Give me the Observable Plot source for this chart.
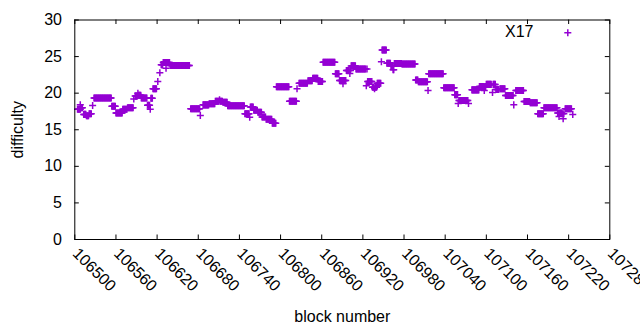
<!DOCTYPE html>
<html><head><meta charset="utf-8">
<script src="https://cdn.jsdelivr.net/npm/d3@7"></script>
<script src="https://cdn.jsdelivr.net/npm/@observablehq/plot@0.6"></script>
<style>html,body{margin:0;padding:0;background:#fff;} #chart svg{display:block}</style>
</head><body><div id="chart"></div>
<script>
// Runs of consecutive blocks sharing the same difficulty
const runStart = [106504,106508,106509,106513,106517,106521,106526,106528,106554,106560,106570,106577,106586,106588,106592,106593,106597,106606,106610,106611,106614,106621,106624,106626,106629,106633,106634,106639,
106669,106683,106687,106696,106705,106711,106712,106716,106723,106748,106755,106756,106761,106767,106773,106779,106788,
106794,106813,106824,106827,106840,106847,106855,106862,106880,106886,106891,106892,106896,106901,106902,106903,106910,106925,106926,106927,106934,106937,106938,106941,106947,106948,106955,106961,106964,106966,106977,106997,107001,107015,107016,107038,107054,107059,107060,107074,107079,107090,107097,107098,107100,107109,107110,107114,107120,107128,107140,107143,107155,107164,107175,107184,107204,107206,107207,107211,107212,107213,107215,107226];
const runEnd = [106508,106508,106511,106516,106520,106524,106526,106553,106559,106569,106576,106585,106586,106591,106592,106596,106605,106609,106610,106613,106619,106621,106624,106628,106632,106633,106638,106667,
106682,106683,106695,106704,106710,106711,106715,106722,106747,106754,106755,106760,106766,106772,106778,106787,106793,
106812,106823,106824,106839,106846,106854,106861,106879,106885,106890,106891,106895,106900,106901,106902,106909,106924,106925,106926,106933,106936,106937,106940,106946,106947,106954,106960,106963,106965,106976,106996,107000,107014,107015,107037,107053,107058,107059,107073,107074,107089,107096,107097,107099,107107,107109,107113,107118,107127,107139,107140,107154,107163,107174,107183,107203,107205,107206,107210,107211,107212,107213,107224,107226];
const runValue = [17.8,18.4,18.0,17.1,16.9,17.2,18.3,19.34,18.2,17.3,17.8,18.0,19.2,19.6,20.0,19.7,19.34,18.35,17.8,19.3,20.6,21.6,22.8,23.9,24.2,23.4,24.2,23.78,
17.86,16.95,18.4,18.55,18.9,19.1,18.9,18.77,18.27,17.18,16.7,18.1,17.65,17.4,16.75,16.45,15.9,
20.87,18.9,20.6,21.37,21.7,22.05,21.6,24.23,22.65,21.73,21.3,21.73,23.1,22.7,23.1,23.73,23.3,21.0,23.3,21.6,20.8,20.6,20.8,21.37,24.3,25.9,24.1,23.78,23.2,24.05,24.0,21.8,21.55,20.36,22.65,20.73,19.8,18.6,19.0,18.6,20.45,20.9,20.36,20.9,21.2,20.1,21.2,20.5,20.6,19.68,18.4,20.36,18.86,18.68,17.18,18.0,17.3,16.8,17.3,17.2,16.5,17.2,17.86,17.1];

const xTicks = [106500,106560,106620,106680,106740,106800,106860,106920,106980,107040,107100,107160,107220,107280];
const yTicks = [0,5,10,15,20,25,30];
const seriesName = "X17";
const xLabel = "block number";
const yLabel = "difficulty";

const points = [];
runStart.forEach((s, i) => {
  for (let b = s; b <= runEnd[i]; b++) points.push({block: b, difficulty: runValue[i]});
});

const W = 640, H = 330, mL = 74.3, mR = 30.7, mT = 19.5, mB = 91;
const innerW = W - mL - mR, innerH = H - mT - mB;
const purple = "#9400d3";
const font = "'Liberation Sans', Arial, sans-serif";
const tickLen = 4.5;

const chart = Plot.plot({
  width: W, height: H,
  marginLeft: mL, marginRight: mR, marginTop: mT, marginBottom: mB,
  style: {fontFamily: font, fontSize: "16px", background: "white", color: "black"},
  x: {domain: [106500, 107280], axis: null},
  y: {domain: [0, 30], axis: null},
  marks: [
    Plot.dot(points, {x: "block", y: "difficulty", symbol: "plus", r: 2.4, stroke: purple, strokeWidth: 1.5, fill: "none"}),
    Plot.tickX(xTicks, {x: d => d, insetTop: innerH - tickLen, stroke: "black"}),
    Plot.tickX(xTicks, {x: d => d, insetBottom: innerH - tickLen, stroke: "black"}),
    Plot.tickY(yTicks, {y: d => d, insetRight: innerW - tickLen, stroke: "black"}),
    Plot.tickY(yTicks, {y: d => d, insetLeft: innerW - tickLen, stroke: "black"}),
    Plot.frame({stroke: "black"}),
    Plot.text(xTicks, {x: d => d, text: d => String(d), frameAnchor: "bottom", rotate: 45, textAnchor: "start", lineAnchor: "top", dx: 5, dy: 7, fontSize: 16, fill: "black"}),
    Plot.text(yTicks, {y: d => d, text: d => String(d), frameAnchor: "left", textAnchor: "end", lineAnchor: "middle", dx: -12.8, fontSize: 16, fill: "black"}),
    Plot.text([yLabel], {text: d => d, frameAnchor: "left", rotate: -90, textAnchor: "middle", lineAnchor: "middle", dx: -57, fontSize: 16, fill: "black"}),
    Plot.text([xLabel], {text: d => d, frameAnchor: "bottom", textAnchor: "middle", lineAnchor: "middle", dy: 77, fontSize: 16, fill: "black"}),
    Plot.text([seriesName], {text: d => d, frameAnchor: "top-right", textAnchor: "end", lineAnchor: "middle", dx: -76.3, dy: 12.2, fontSize: 16, fill: "black"}),
    Plot.dot([seriesName], {frameAnchor: "top-right", dx: -42, dy: 12.8, symbol: "plus", r: 2.4, stroke: purple, strokeWidth: 1.5, fill: "none"})
  ]
});
document.getElementById("chart").appendChild(chart);
</script>
</body></html>
